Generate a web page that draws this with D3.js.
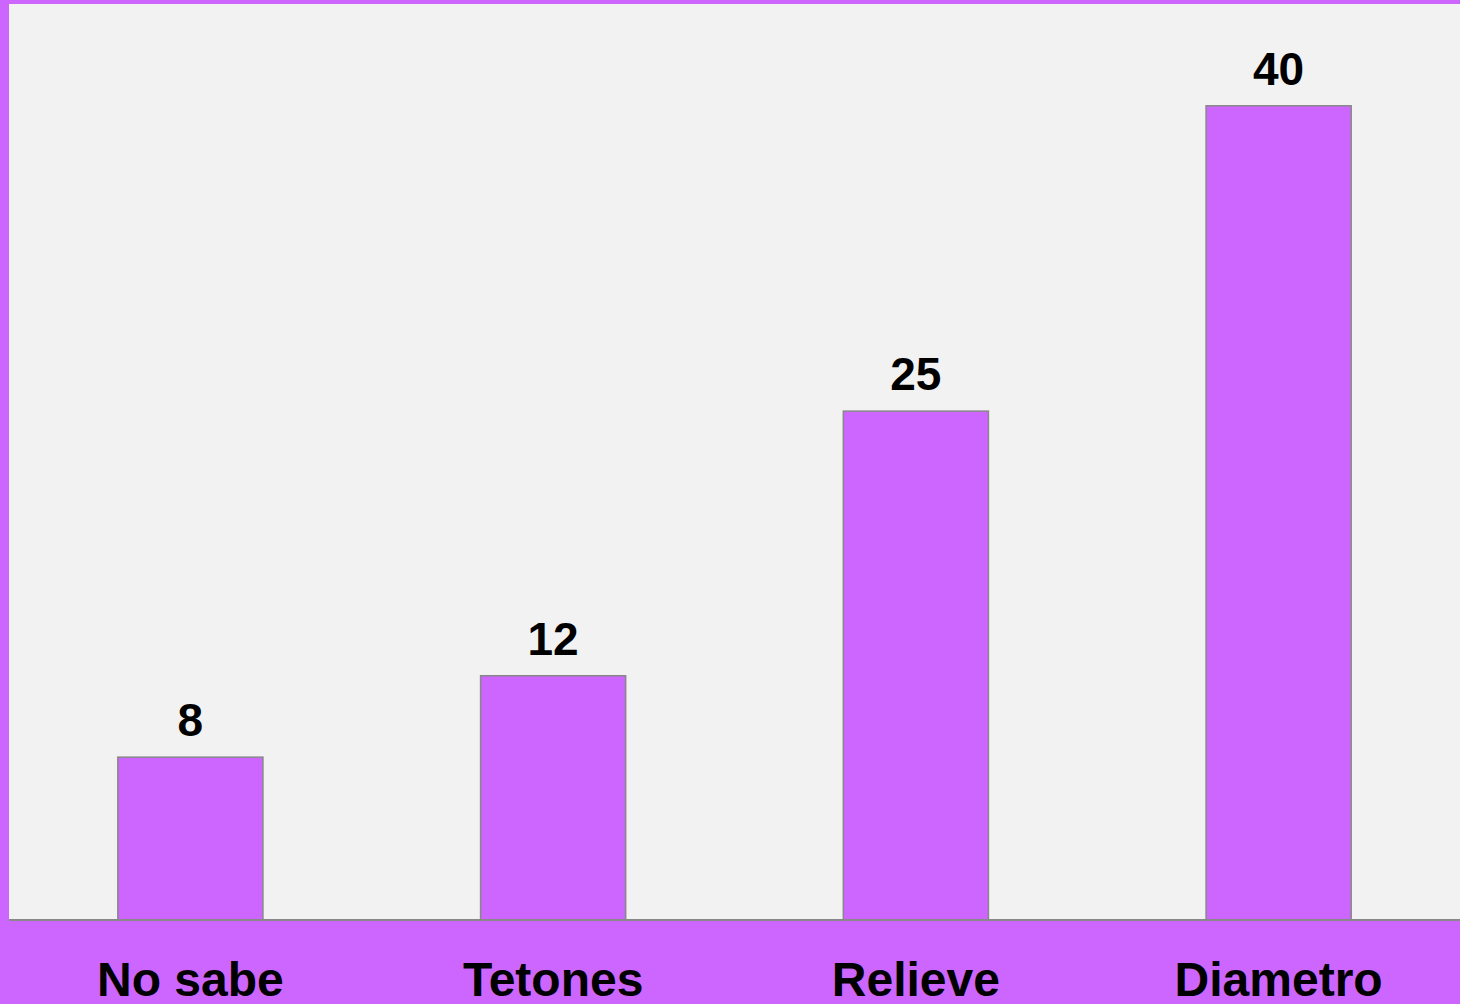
<!DOCTYPE html>
<html>
<head>
<meta charset="utf-8">
<script src="https://cdn.jsdelivr.net/npm/d3@7"></script>
<style>
  html, body { margin: 0; padding: 0; background: #cc66ff; }
  svg { display: block; }
</style>
</head>
<body>
<svg id="chart" width="1460" height="1004"></svg>
<script>
const categories = ["No sabe", "Tetones", "Relieve", "Diametro"];
const values = [8, 12, 25, 40];

const W = 1460, H = 1004;
const plot = { left: 9, top: 4, right: 1460, bottom: 920 };

const svg = d3.select("#chart");
svg.append("rect").attr("x", 0).attr("y", 0).attr("width", W).attr("height", H).attr("fill", "#cc66ff");
svg.append("rect")
  .attr("x", plot.left).attr("y", plot.top)
  .attr("width", plot.right - plot.left).attr("height", plot.bottom - plot.top)
  .attr("fill", "#f2f2f2");

const x = d3.scaleBand().domain(categories).range([plot.left, plot.right])
  .paddingInner(0.6).paddingOuter(0.3);
const y = d3.scaleLinear().domain([0, 45]).range([plot.bottom, plot.top]);

const data = categories.map((c, i) => ({ c, v: values[i] }));

svg.selectAll("rect.bar").data(data).enter().append("rect")
  .attr("class", "bar")
  .attr("x", d => x(d.c))
  .attr("y", d => y(d.v))
  .attr("width", x.bandwidth())
  .attr("height", d => y(0) - y(d.v))
  .attr("fill", "#cc66ff")
  .attr("stroke", "#888888")
  .attr("stroke-width", 1.5);

svg.selectAll("text.val").data(data).enter().append("text")
  .attr("class", "val")
  .attr("x", d => x(d.c) + x.bandwidth() / 2)
  .attr("y", d => y(d.v) - 21)
  .attr("text-anchor", "middle")
  .attr("font-family", "Liberation Sans, Arial, sans-serif")
  .attr("font-weight", "bold")
  .attr("font-size", 46)
  .attr("fill", "#000")
  .text(d => d.v);

// baseline
svg.append("line")
  .attr("x1", plot.left).attr("x2", plot.right)
  .attr("y1", y(0)).attr("y2", y(0))
  .attr("stroke", "#888888").attr("stroke-width", 2);

// category axis
const xAxis = d3.axisBottom(x).tickSize(0).tickPadding(0);
const gx = svg.append("g").attr("transform", `translate(0,${plot.bottom})`).call(xAxis);
gx.select(".domain").remove();
gx.selectAll("text")
  .attr("dy", null)
  .attr("y", 76)
  .attr("font-family", "Liberation Sans, Arial, sans-serif")
  .attr("font-weight", "bold")
  .attr("font-size", 48)
  .attr("fill", "#000");
</script>
</body>
</html>
